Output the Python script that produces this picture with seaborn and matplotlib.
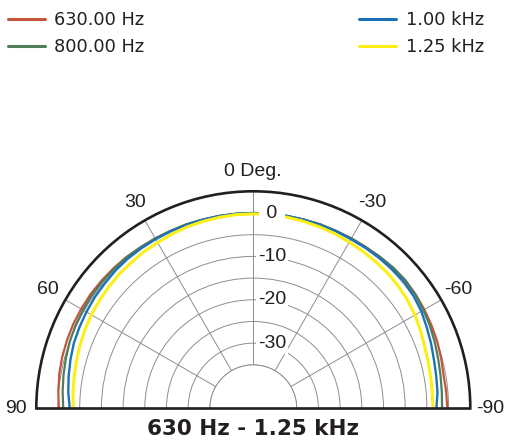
import numpy as np
import pandas as pd
import matplotlib
matplotlib.use("Agg")
import matplotlib.pyplot as plt
import seaborn as sns
from matplotlib.lines import Line2D

# polar response, angle in degrees (0 = on axis, +90 = left), level in dB
angles = [-90, -85, -80, -75, -70, -65, -60, -55, -50, -45, -40, -35, -30,
          -25, -20, -15, -10, -5, 0, 5, 10, 15, 20, 25, 30, 35, 40, 45, 50,
          55, 60, 65, 70, 75, 80, 85, 90]
db_630 = [-0.3, -0.4, -0.5, -0.2, 0.1, 0.3, 0.5, 0.7, 0.8, 0.7, 0.5, 0.3, 0.2,
          0.1, 0.1, 0.0, 0.0, 0.0, 0.0, 0.0, 0.0, 0.0, 0.1, 0.1, 0.2, 0.3, 0.5,
          0.6, 0.7, 0.8, 0.8, 0.8, 0.7, 0.6, 0.4, 0.1, -0.2]
db_800 = [-1.5, -1.4, -1.2, -0.9, -0.5, -0.1, 0.3, 0.6, 0.8, 0.7, 0.5, 0.3, 0.2,
          0.1, 0.1, 0.0, 0.0, 0.0, 0.0, 0.0, 0.0, 0.0, 0.1, 0.1, 0.2, 0.3, 0.4,
          0.4, 0.4, 0.4, 0.3, 0.2, 0.0, -0.3, -0.6, -0.9, -1.2]
db_1k = [-2.8, -2.4, -2.2, -1.9, -1.4, -0.9, -0.3, 0.1, 0.3, 0.3, 0.2, 0.1, 0.0,
         0.0, 0.0, 0.0, 0.0, 0.0, 0.0, 0.0, 0.0, 0.0, 0.0, 0.0, 0.0, 0.0, 0.0,
         -0.1, -0.3, -0.4, -0.6, -0.8, -1.0, -1.4, -1.8, -2.2, -2.7]
db_1k25 = [-3.6, -3.6, -3.5, -3.3, -3.0, -2.5, -2.0, -1.6, -1.3, -1.1, -1.0, -0.9,
           -0.8, -0.6, -0.5, -0.4, -0.3, -0.2, -0.2, -0.2, -0.3, -0.4, -0.5, -0.7,
           -0.9, -1.0, -1.2, -1.3, -1.5, -1.7, -1.9, -2.2, -2.5, -2.8, -3.1, -3.3,
           -3.5]

series_names = ["630.00 Hz", "800.00 Hz", "1.00 kHz", "1.25 kHz"]
series_vals = [db_630, db_800, db_1k, db_1k25]
colors = ["#c4563c", "#4f7d5c", "#1c72b8", "#fbef16"]
widths = [1.6, 1.6, 1.7, 2.2]

ring_ticks = [-35, -30, -25, -20, -15, -10, -5, 0]
ring_labels = {0: "0", -10: "-10", -20: "-20", -30: "-30"}
spoke_angles = [-60, -30, 0, 30, 60]
angle_labels = {0: "0 Deg.", 30: "30", 60: "60", 90: "90",
                -30: "-30", -60: "-60", -90: "-90"}

frames = []
for name, vals in zip(series_names, series_vals):
    frames.append(pd.DataFrame({"theta": np.radians(angles), "db": vals, "freq": name}))
df = pd.concat(frames, ignore_index=True)

sns.set_style("white")
plt.rcParams["font.family"] = ["Liberation Sans", "DejaVu Sans"]
plt.rcParams["text.color"] = "#231f20"
ink = "#231f20"

fig = plt.figure(figsize=(5.08, 4.45), dpi=100)
# the half-disc is drawn at half the box size, centred in the box
cx, cy, rad = 253.3, 408.3, 217.0   # pixel centre (from top) and rim radius
ax = fig.add_axes([(cx - 2 * rad) / 508, (445 - (cy - rad / 2) - rad) / 445,
                   4 * rad / 508, 2 * rad / 445], projection="polar")
ax.set_theta_zero_location("N")
ax.set_theta_direction(1)
ax.set_thetamin(-90)
ax.set_thetamax(90)
ax.set_ylim(-35, 5)
ax.set_rorigin(-45)

ax.set_yticks(ring_ticks)
ax.set_yticklabels([])
ax.set_xticks(np.radians(spoke_angles))
ax.set_xticklabels([])
ax.grid(True, color="#8e8e8e", lw=0.7)

ax.spines["polar"].set_color(ink)
ax.spines["polar"].set_linewidth(1.9)
ax.spines["start"].set_visible(False)
ax.spines["end"].set_visible(False)
ax.spines["inner"].set_color("#8e8e8e")
ax.spines["inner"].set_linewidth(0.7)

for name, col, lw in zip(series_names, colors, widths):
    sns.lineplot(data=df[df["freq"] == name], x="theta", y="db", color=col,
                 lw=lw, sort=False, estimator=None, ax=ax, legend=False)
ax.set_xlabel("")
ax.set_ylabel("")

# radial labels with white background, right of the 0 deg spoke
for r, lbl in ring_labels.items():
    txt = f" {lbl} " if r == 0 else lbl
    ax.annotate(txt, xy=(0, r), xytext=(13.5, 0), textcoords="offset points",
                ha="center", va="center", fontsize=14, zorder=10,
                bbox=dict(boxstyle="square,pad=0.1", fc="white", ec="none"))

# angle labels outside the rim
for a, lbl in angle_labels.items():
    t = np.radians(a)
    d = 14.5
    ax.annotate(lbl, xy=(t, 5), xytext=(-np.sin(t) * d, np.cos(t) * d),
                textcoords="offset points", ha="center", va="center",
                fontsize=14, annotation_clip=False)

# baseline across the whole half circle
fig.canvas.draw()
inv = fig.transFigure.inverted()
p1 = inv.transform(ax.transData.transform((np.pi / 2, 5)))
p2 = inv.transform(ax.transData.transform((-np.pi / 2, 5)))
fig.add_artist(Line2D([p1[0], p2[0]], [p1[1], p2[1]], color=ink,
                      lw=1.9, solid_capstyle="butt", transform=fig.transFigure))

handles = [Line2D([], [], color=c, lw=2.2) for c in colors]
fig.legend(handles, series_names, ncol=2, loc="upper left",
           bbox_to_anchor=(8 / 508, 1 - 11 / 445), frameon=False,
           prop={"family": "DejaVu Sans", "size": 12.8},
           handlelength=2.08, handletextpad=0.52, columnspacing=12.1,
           borderpad=0, borderaxespad=0, labelspacing=0.5)

fig.text(0.4987, 0.035, "630 Hz - 1.25 kHz", ha="center", va="center",
         family="DejaVu Sans", fontsize=15.5, fontweight="bold")

fig.savefig("out.png", dpi=100)
